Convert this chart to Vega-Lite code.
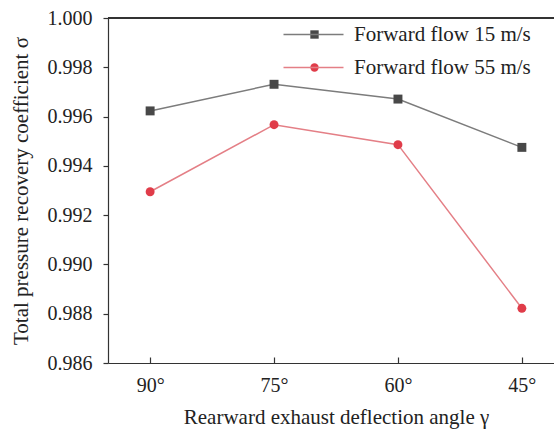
{
  "$schema": "https://vega.github.io/schema/vega-lite/v6.json",
  "autosize": "none",
  "padding": {"left": 108, "top": 18, "right": 0, "bottom": 67},
  "width": 456,
  "height": 345,
  "background": "white",
  "config": {
    "font": "Liberation Serif",
    "view": {"stroke": null}
  },
  "data": {
    "values": [
      {"angle": "90°", "series": "Forward flow 15 m/s", "sigma": 0.99623},
      {"angle": "75°", "series": "Forward flow 15 m/s", "sigma": 0.99731},
      {"angle": "60°", "series": "Forward flow 15 m/s", "sigma": 0.99671},
      {"angle": "45°", "series": "Forward flow 15 m/s", "sigma": 0.99475},
      {"angle": "90°", "series": "Forward flow 55 m/s", "sigma": 0.99295},
      {"angle": "75°", "series": "Forward flow 55 m/s", "sigma": 0.99567},
      {"angle": "60°", "series": "Forward flow 55 m/s", "sigma": 0.99486},
      {"angle": "45°", "series": "Forward flow 55 m/s", "sigma": 0.98822}
    ]
  },
  "encoding": {
    "x": {
      "field": "angle",
      "type": "ordinal",
      "sort": ["90°", "75°", "60°", "45°"],
      "scale": {"type": "point", "padding": 0.34},
      "axis": {
        "title": "Rearward exhaust deflection angle γ",
        "grid": false,
        "labelAngle": 0,
        "labelFont": "Liberation Serif",
        "labelFontSize": 20,
        "labelColor": "#222222",
        "titleFont": "Liberation Serif",
        "titleFontSize": 21,
        "titleFontWeight": "normal",
        "titleColor": "#222222",
        "domainColor": "#333333",
        "domainWidth": 1.2,
        "tickColor": "#333333",
        "tickWidth": 1.2,
        "tickSize": -6,
        "labelPadding": 18,
        "titlePadding": 11
      }
    },
    "y": {
      "field": "sigma",
      "type": "quantitative",
      "scale": {"domain": [0.986, 1.0], "nice": false, "zero": false},
      "axis": {
        "title": "Total pressure recovery coefficient σ",
        "grid": false,
        "values": [0.986, 0.988, 0.99, 0.992, 0.994, 0.996, 0.998, 1.0],
        "format": ".3f",
        "labelFont": "Liberation Serif",
        "labelFontSize": 20,
        "labelColor": "#222222",
        "titleFont": "Liberation Serif",
        "titleFontSize": 21,
        "titleFontWeight": "normal",
        "titleColor": "#222222",
        "domainColor": "#333333",
        "domainWidth": 1.2,
        "tickColor": "#333333",
        "tickWidth": 1.2,
        "tickSize": 5,
        "labelPadding": 11,
        "titlePadding": 16
      }
    }
  },
  "layer": [
    {
      "mark": {"type": "rule", "color": "#333333", "strokeWidth": 1.2},
      "encoding": {"y": {"datum": 1.0}, "x": null}
    },
    {
      "mark": {"type": "line", "strokeWidth": 1.5},
      "encoding": {
        "stroke": {
          "field": "series",
          "type": "nominal",
          "scale": {
            "domain": ["Forward flow 15 m/s", "Forward flow 55 m/s"],
            "range": ["#7c7c7c", "#e47f86"]
          },
          "legend": {
            "title": null,
            "orient": "none",
            "legendX": 195,
            "legendY": 6,
            "padding": 0,
            "symbolSize": 100,
            "symbolType": "M-6,0H6",
            "symbolStrokeWidth": 1.5,
            "labelFont": "Liberation Serif",
            "labelFontSize": 21,
            "labelColor": "#222222",
            "labelLimit": 0,
            "labelOffset": 30,
            "rowPadding": 11
          }
        }
      }
    },
    {
      "mark": {"type": "point", "filled": true, "opacity": 1, "size": 80},
      "encoding": {
        "fill": {
          "field": "series",
          "type": "nominal",
          "scale": {
            "domain": ["Forward flow 15 m/s", "Forward flow 55 m/s"],
            "range": ["#484848", "#e03c49"]
          },
          "legend": {
            "title": null,
            "orient": "none",
            "legendX": 196,
            "legendY": 6,
            "padding": 0,
            "symbolSize": 70,
            "symbolStrokeWidth": 0,
            "symbolOpacity": 1,
            "labelFont": "Liberation Serif",
            "labelFontSize": 21,
            "labelOpacity": 0,
            "labelLimit": 0,
            "labelOffset": 30,
            "rowPadding": 11
          }
        },
        "shape": {
          "field": "series",
          "type": "nominal",
          "scale": {
            "domain": ["Forward flow 15 m/s", "Forward flow 55 m/s"],
            "range": ["square", "circle"]
          },
          "legend": {
            "title": null,
            "orient": "none",
            "legendX": 196,
            "legendY": 6,
            "padding": 0,
            "symbolSize": 70,
            "symbolStrokeWidth": 0,
            "symbolOpacity": 1,
            "labelFont": "Liberation Serif",
            "labelFontSize": 21,
            "labelOpacity": 0,
            "labelLimit": 0,
            "labelOffset": 30,
            "rowPadding": 11
          }
        }
      }
    }
  ],
  "resolve": {"legend": {"stroke": "independent"}}
}
